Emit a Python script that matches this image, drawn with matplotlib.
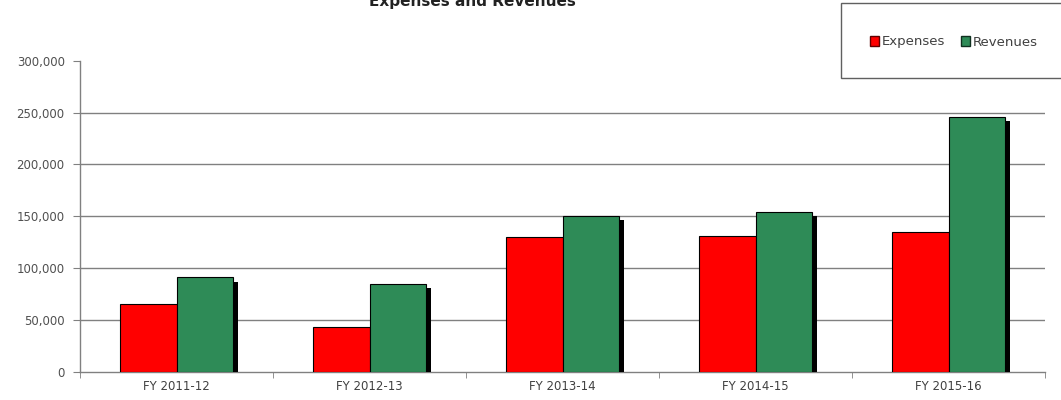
import matplotlib
matplotlib.use("Agg")
import matplotlib.pyplot as plt
import matplotlib.patheffects as pe
from matplotlib.patches import Patch, Rectangle
from matplotlib.ticker import FuncFormatter
import numpy as np

plt.rcParams["font.family"] = ["DejaVu Sans"]

years = ["FY 2011-12", "FY 2012-13", "FY 2013-14", "FY 2014-15", "FY 2015-16"]
expenses = [65000, 43000, 129500, 130500, 134500]
revenues = [91000, 84500, 150000, 154000, 245500]

RED = "#FF0000"
GREEN = "#2E8B57"
GRID = "#808080"

fig = plt.figure(figsize=(10.61, 4.0), dpi=100)
fig.patch.set_facecolor("white")
ax = fig.add_axes([80 / 1061, 1 - 371.7 / 400, 965 / 1061, (371.7 - 60.7) / 400])

x = np.arange(len(years))
w = 0.295
shadow = [pe.SimplePatchShadow(offset=(3.5, -3), shadow_rgbFace="black", alpha=1.0), pe.Normal()]

b1 = ax.bar(x - w / 2, expenses, w, color=RED, edgecolor="black", linewidth=0.8, zorder=3)
b2 = ax.bar(x + w / 2, revenues, w, color=GREEN, edgecolor="black", linewidth=0.8, zorder=3)
for b in list(b1) + list(b2):
    b.set_path_effects(shadow)

ax.set_xlim(-0.5, len(years) - 0.5)
ax.set_ylim(0, 300000)
ax.set_yticks(np.arange(0, 300001, 50000))
ax.yaxis.set_major_formatter(FuncFormatter(lambda v, p: f"{int(v):,}"))
for yv in range(50000, 300000, 50000):
    ax.axhline(yv, color=GRID, linewidth=1.0, zorder=1)

ax.set_xticks(x)
ax.set_xticklabels(years, fontsize=8.5, color="#404040")
ax.set_xticks(np.arange(-0.5, len(years)), minor=True)
ax.tick_params(axis="x", which="major", length=0, pad=6)
ax.tick_params(axis="x", which="minor", length=4, color=GRID, direction="out")
ax.tick_params(axis="y", length=5, color=GRID, labelsize=8.5, labelcolor="#505050", pad=6)

for s in ["top", "right"]:
    ax.spines[s].set_visible(False)
for s in ["left", "bottom"]:
    ax.spines[s].set_color(GRID)
    ax.spines[s].set_linewidth(1.0)

# title, cut off at the top as in the source image
fig.text(472 / 1061, 1 - 6 / 400, "Expenses and Revenues", ha="center", va="baseline",
         fontsize=11, fontweight="bold", color="#222222")

# legend box running past the right edge
fig.patches.append(Rectangle((841 / 1061, 1 - 78 / 400), 0.3, 75 / 400,
                             transform=fig.transFigure, facecolor="white",
                             edgecolor="#606060", linewidth=1.0))
handles = [Patch(facecolor=RED, edgecolor="#600000", label="Expenses"),
           Patch(facecolor=GREEN, edgecolor="#103020", label="Revenues")]
fig.legend(handles=handles, loc="center left", bbox_to_anchor=(858 / 1061, 1 - 42 / 400),
           frameon=False, ncol=2, fontsize=9.5, handlelength=0.7, handleheight=0.7,
           handletextpad=0.2, columnspacing=1.2, labelcolor="#404040")

plt.savefig("out.png", dpi=100, facecolor="white")
